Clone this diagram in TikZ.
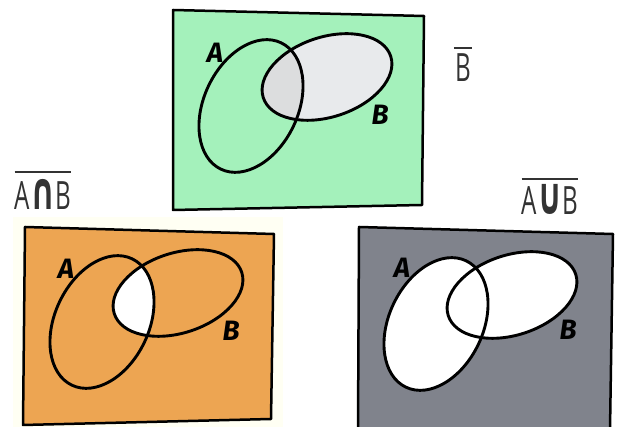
\documentclass[tikz,border=0pt]{standalone}
\usepackage{fontspec}
\newfontfamily\handfont{Fira Sans}
\newfontfamily\namefont{Open Sans}[FakeStretch=0.62]
\newfontfamily\opfont{DejaVu Sans}[FakeStretch=0.6]
\usetikzlibrary{calc}
\definecolor{venngreen}{HTML}{A4F1BB}
\definecolor{venngrey}{HTML}{E8EAEC}
\definecolor{venndark}{HTML}{DCDDDE}
\definecolor{vennorange}{HTML}{EDA552}
\definecolor{vennslate}{HTML}{80838C}
\definecolor{venncream}{HTML}{FFFFF3}

% the two sets, relative to the centre of A
\newcommand{\ellA}{(0,0) ellipse [x radius=70, y radius=47]}
\newcommand{\ellB}{(76,29) ellipse [x radius=67, y radius=40]}
\newcommand{\bigop}[1]{{\opfont\bfseries\fontsize{52}{52}\selectfont #1}}

\tikzset{
  setA/.style={rotate=64.5},
  setB/.style={rotate around={18:(76,29)}},
  outline/.style={line width=2.9pt},
  frame/.style={line width=2.5pt, line join=round},
  letter/.style={font=\handfont\bfseries\itshape\fontsize{28}{28}\selectfont, inner sep=0pt},
  setname/.style={font=\namefont\fontsize{39}{39}\selectfont, inner sep=0pt, anchor=base, text=black!80},
  bar/.style={line width=2pt, black!80}
}

\begin{document}
\begin{tikzpicture}[x=1pt, y=1pt]
  \useasboundingbox (0,0) rectangle (621,427);

  % Complement of B
  \begin{scope}[shift={(251,321)}]
    \filldraw[frame, fill=venngreen] (-78,96) -- (173,90) -- (171,-99) -- (-78,-104) -- cycle;
    \fill[venngrey, setB] \ellB;
    \begin{scope}
      \clip[setA] \ellA;
      \fill[venndark, setB] \ellB;
    \end{scope}
    \draw[outline, setB] \ellB;
    \draw[outline, setA] \ellA;
    \node[letter] (topA) at (-36,53) {A};
    \node[letter] (topB) at (129,-9) {B};
  \end{scope}
  \node[setname] (nameB) at (463,345) {B};
  \draw[bar] ($(nameB.north west)+(-1,6)$) -- ($(nameB.north east)+(1,6)$);

  % Complement of A and B
  \fill[venncream] (13,0) rectangle (283,210);
  \begin{scope}[shift={(102,105)}]
    \filldraw[frame, fill=vennorange] (-77,95) -- (172,88) -- (169,-97) -- (-79,-103) -- cycle;
    \begin{scope}
      \clip[setA] \ellA;
      \fill[white, setB] \ellB;
    \end{scope}
    \draw[outline, setB] \ellB;
    \draw[outline, setA] \ellA;
    \node[letter] (leftA) at (-36,53) {A};
    \node[letter] (leftB) at (129,-9) {B};
  \end{scope}
  \node[setname] (nameAnB) at (43,217) {A\bigop{∩}B};
  \draw[bar] ($(nameAnB.north west)+(0,8)$) -- ($(nameAnB.north east)+(0,8)$);

  % Complement of A or B
  \begin{scope}[shift={(436,103)}]
    \filldraw[frame, fill=vennslate] (-77,97) -- (177,90) -- (174,-106) -- (-78,-106) -- cycle;
    \fill[white, setA] \ellA;
    \fill[white, setB] \ellB;
    \draw[outline, setB] \ellB;
    \draw[outline, setA] \ellA;
    \node[letter] (rightA) at (-34,56) {A};
    \node[letter] (rightB) at (132,-6) {B};
  \end{scope}
  \node[setname] (nameAuB) at (550,212) {A\bigop{∪}B};
  \draw[bar] ($(nameAuB.north west)+(0,6)$) -- ($(nameAuB.north east)+(0,6)$);
\end{tikzpicture}
\end{document}
